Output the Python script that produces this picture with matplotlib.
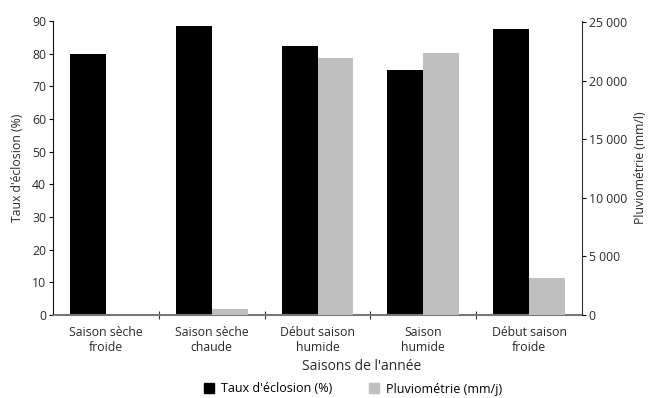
import matplotlib.pyplot as plt
import matplotlib.ticker as ticker
from matplotlib.patches import Patch
import numpy as np

plt.rcParams['font.family'] = ['Open Sans', 'DejaVu Sans']

saisons = ['Saison sèche\nfroide', 'Saison sèche\nchaude', 'Début saison\nhumide',
           'Saison\nhumide', 'Début saison\nfroide']
eclosion = [80, 88.5, 82.5, 75, 87.5]
pluvio = [0, 500, 21900, 22400, 3200]

NOIR = '#000000'
GRIS = '#bfbfbf'
TXT = '#2a2a2a'
FS = 8.8


def milliers(v, pos):
    return '{:,.0f}'.format(v).replace(',', ' ')


fig = plt.figure(figsize=(6.48, 3.98), dpi=100)
ax = fig.add_axes([0.082, 0.2085, 0.816, 0.7387])
ax2 = ax.twinx()

x = np.arange(len(saisons))
w = 0.34
ax.bar(x - w / 2, eclosion, w, color=NOIR, zorder=2)
ax2.bar(x + w / 2, pluvio, w, color=GRIS, zorder=2)

ax.set_xlim(-0.5, len(saisons) - 0.5)
ax.set_ylim(0, 90)
ax2.set_ylim(0, 25100)
ax.set_yticks(np.arange(0, 91, 10))
ax2.set_yticks(np.arange(0, 25001, 5000))
ax2.yaxis.set_major_formatter(ticker.FuncFormatter(milliers))

# separators between seasons as major ticks, names on minor ticks
ax.set_xticks(x[:-1] + 0.5)
ax.set_xticklabels([])
ax.set_xticks(x, minor=True)
ax.set_xticklabels(saisons, minor=True, fontsize=FS, color=TXT, linespacing=1.15)
ax.tick_params(axis='x', which='major', direction='inout', length=6, width=0.8, color='#333333')
ax.tick_params(axis='x', which='minor', length=0, pad=8)

ax.tick_params(axis='y', direction='out', length=3, width=0.8, labelsize=FS, pad=2, labelcolor=TXT)
ax2.tick_params(axis='y', direction='out', length=3, width=0.8, labelsize=FS, pad=2, labelcolor=TXT)

for a in (ax, ax2):
    a.spines['top'].set_visible(False)
ax.spines['left'].set_color('#111111')
ax2.spines['right'].set_color('#333333')
ax.spines['bottom'].set_color('#777777')
ax.spines['bottom'].set_linewidth(1.5)
ax2.spines['bottom'].set_visible(False)
ax2.spines['left'].set_visible(False)
ax.spines['right'].set_visible(False)

ax.set_ylabel("Taux d'éclosion (%)", fontsize=FS, color=TXT, labelpad=6)
ax2.set_ylabel('Pluviométrie (mm/l)', fontsize=FS, color=TXT, labelpad=5)
ax.set_xlabel("Saisons de l'année", fontsize=10, color=TXT)
ax.xaxis.set_label_coords((362 - 53) / 529, (315 - 359) / 294)

handles = [Patch(color=NOIR, label="Taux d'éclosion (%)"),
           Patch(color=GRIS, label='Pluviométrie (mm/j)')]
fig.legend(handles=handles, loc='center', bbox_to_anchor=(353 / 648, 1 - 389 / 398),
           ncol=2, frameon=False, fontsize=9, handlelength=0.8, handleheight=0.9,
           handletextpad=0.55, columnspacing=2.9)

fig.savefig('out.png', dpi=100)
